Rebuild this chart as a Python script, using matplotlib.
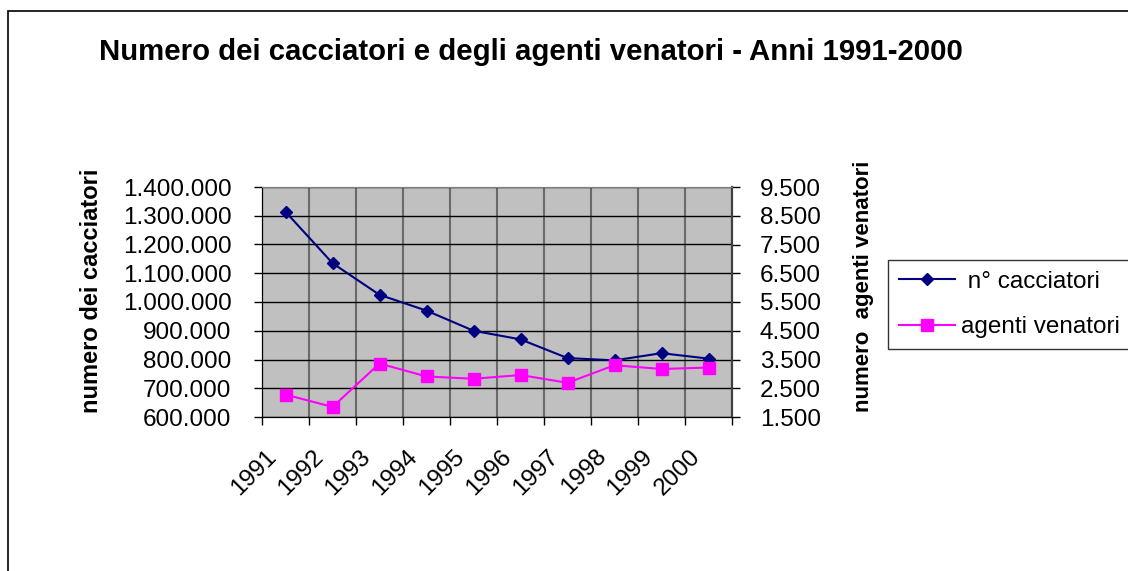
import matplotlib.pyplot as plt
import numpy as np
from matplotlib.ticker import FuncFormatter, FixedLocator
from matplotlib.transforms import ScaledTranslation
from matplotlib.patches import Rectangle

plt.rcParams['font.family'] = ['Liberation Sans', 'DejaVu Sans']

anni = ['1991', '1992', '1993', '1994', '1995', '1996', '1997', '1998', '1999', '2000']
cacciatori = [1314000, 1135000, 1025000, 970000, 900000, 870000, 805000, 797000, 822000, 803000]
agenti = [2280, 1850, 3360, 2910, 2830, 2960, 2690, 3300, 3170, 3220]

fmt = FuncFormatter(lambda v, p: f'{v:,.0f}'.replace(',', '.'))

fig = plt.figure(figsize=(11.28, 5.71), dpi=100)
ax = fig.add_axes([262/1128, 1-417/571, 470/1128, 230/571])
ax.set_facecolor('#C0C0C0')
x = np.arange(len(anni))

ax.plot(x, cacciatori, color='#000080', marker='D', markersize=6.5, linewidth=1.5, label=' n° cacciatori')
ax.set_xlim(-0.5, len(anni) - 0.5)
ax.set_ylim(600000, 1400000)
ax.set_yticks(np.arange(600000, 1400001, 100000))
ax.yaxis.set_major_formatter(fmt)
ax.grid(axis='y', color='black', linewidth=1.0)
ax.set_xticks(x)
ax.set_xticklabels(anni, rotation=45, ha='right', va='center', rotation_mode='anchor')
ax.xaxis.set_minor_locator(FixedLocator(np.arange(-0.5, len(anni), 1)))
ax.grid(axis='x', which='minor', color='#6A6A6A', linewidth=1.5)
ax.tick_params(axis='x', which='major', length=0, pad=26, labelsize=17.5)
ax.tick_params(axis='x', which='minor', length=6, width=1)
ax.tick_params(axis='y', length=6, width=1, pad=16, labelsize=17.5)
for lab in ax.get_xticklabels():
    lab.set_transform(lab.get_transform() + ScaledTranslation(-0.12, 0, fig.dpi_scale_trans))
ax.set_axisbelow(True)

ax2 = ax.twinx()
ax2.plot(x, agenti, color='#FF00FF', marker='s', markersize=9, linewidth=1.5, label='agenti venatori')
ax2.set_ylim(1500, 9500)
ax2.set_yticks(np.arange(1500, 9501, 1000))
ax2.yaxis.set_major_formatter(fmt)
ax2.tick_params(axis='y', length=6, width=1, pad=14, labelsize=17.5)

for a in (ax, ax2):
    a.spines['top'].set_color('#808080')
    a.spines['left'].set_color('black')
    a.spines['bottom'].set_color('black')
    a.spines['right'].set_color('#404040')
    a.spines['right'].set_linewidth(1.5)

fig.text(531/1128, 1-52/571, 'Numero dei cacciatori e degli agenti venatori - Anni 1991-2000',
         ha='center', va='center', fontsize=21.2, fontweight='bold')
fig.text(92/1128, 1-291/571, 'numero dei cacciatori', rotation=90, ha='center', va='center',
         fontsize=17, fontweight='bold')
fig.text(863/1128, 1-286/571, 'numero  agenti venatori', rotation=90, ha='center', va='center',
         fontsize=16, fontweight='bold')

h1, l1 = ax.get_legend_handles_labels()
h2, l2 = ax2.get_legend_handles_labels()
leg = fig.legend(h1 + h2, l1 + l2, loc='upper left', bbox_to_anchor=(888/1128, 1-260/571),
                 fontsize=17.5, frameon=True, fancybox=False, edgecolor='black',
                 handlelength=2.3, handletextpad=0.25, borderpad=0.45, labelspacing=0.95,
                 borderaxespad=0)
leg.get_frame().set_linewidth(1.0)

fig.patches.append(Rectangle((8/1128, -0.1), 1.2, 1-11/571+0.1, transform=fig.transFigure,
                             fill=False, edgecolor='black', linewidth=1.2))

fig.savefig('out.png', dpi=100)
